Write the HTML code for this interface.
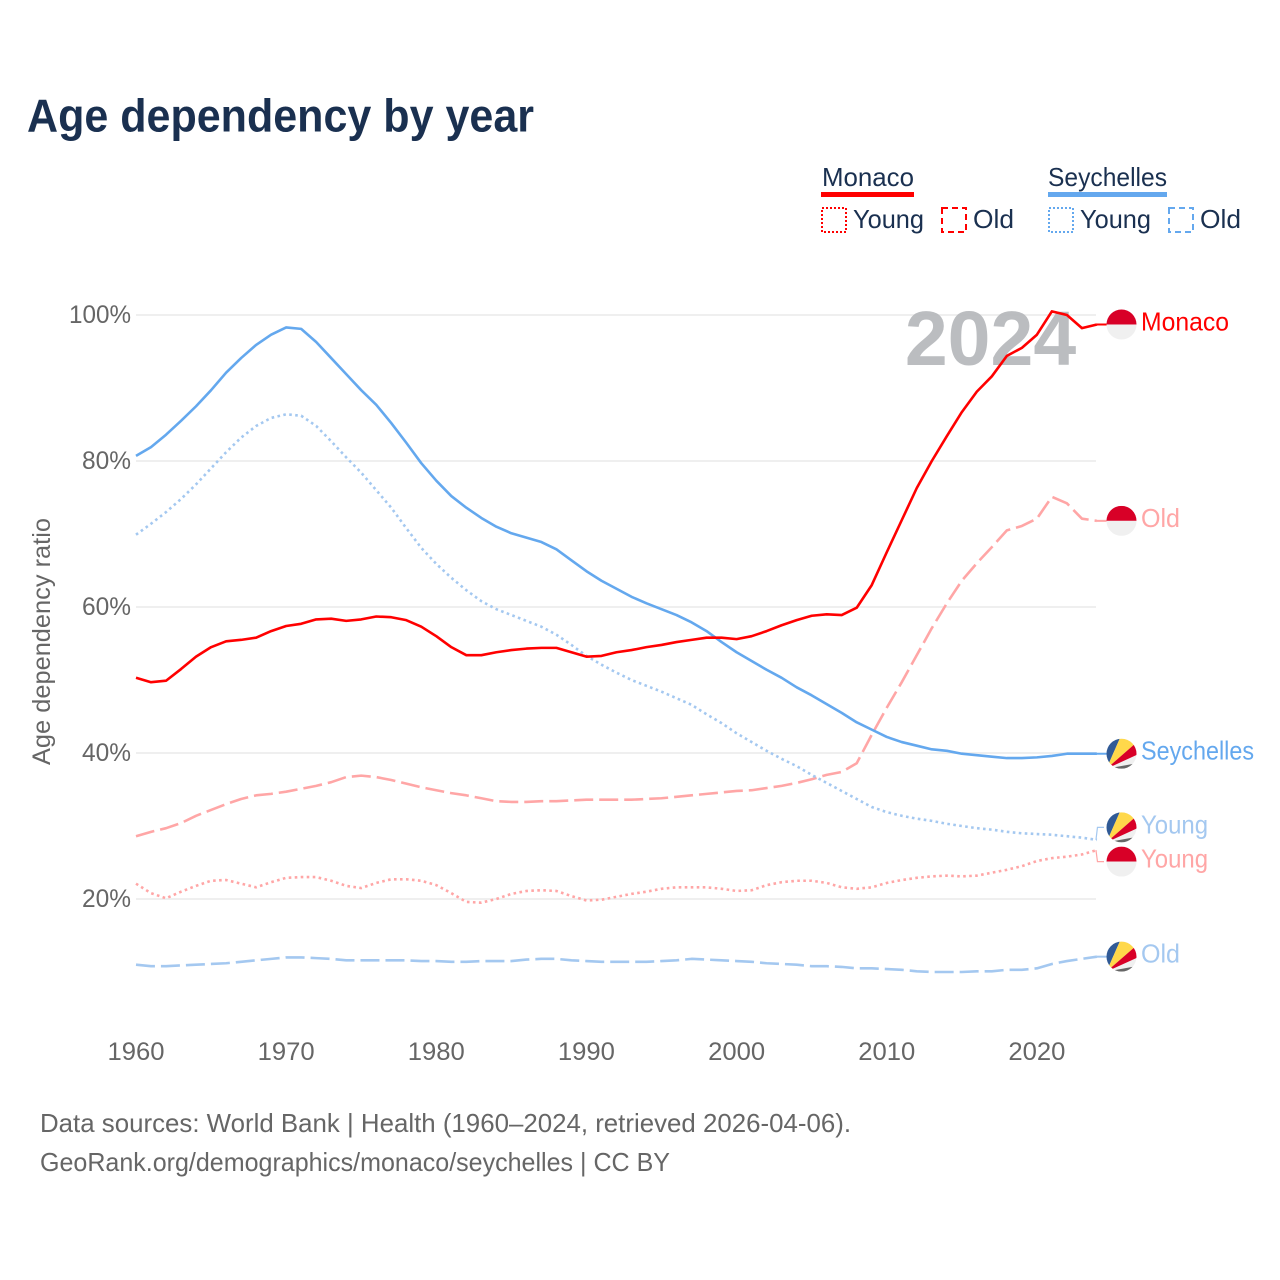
<!DOCTYPE html>
<html lang="en">
<head>
<meta charset="utf-8">
<title>Age dependency by year</title>
<style>
html,body{margin:0;padding:0;background:#fff;width:1280px;height:1280px;overflow:hidden}
svg{display:block}
text{font-family:"Liberation Sans",sans-serif}
</style>
</head>
<body>
<svg id="chart" xmlns="http://www.w3.org/2000/svg" width="1280" height="1280" viewBox="0 0 1280 1280">
  <defs>
    <clipPath id="flag-clip"><circle cx="0" cy="0" r="15"/></clipPath>
  </defs>
  <rect width="1280" height="1280" fill="#fff"/>
  <text x="27" y="131.5" font-size="46" font-weight="700" fill="#1a3050" textLength="507" lengthAdjust="spacingAndGlyphs">Age dependency by year</text>

  <g font-size="26" fill="#1a3050">
    <text x="822" y="186" textLength="92" lengthAdjust="spacingAndGlyphs">Monaco</text>
    <rect x="821" y="192" width="93" height="5" fill="#ff0000"/>
    <rect x="822" y="208" width="24" height="24" fill="none" stroke="#ff0000" stroke-width="2" stroke-dasharray="2 2"/>
    <text x="853" y="228" textLength="71" lengthAdjust="spacingAndGlyphs">Young</text>
    <rect x="942" y="208" width="24" height="24" fill="none" stroke="#ff0000" stroke-width="2" stroke-dasharray="6 4"/>
    <text x="973" y="228" textLength="41" lengthAdjust="spacingAndGlyphs">Old</text>
    <text x="1048" y="186" textLength="119" lengthAdjust="spacingAndGlyphs">Seychelles</text>
    <rect x="1048" y="192" width="119" height="5" fill="#64a8ee"/>
    <rect x="1049" y="208" width="24" height="24" fill="none" stroke="#64a8ee" stroke-width="2" stroke-dasharray="2 2"/>
    <text x="1080" y="228" textLength="71" lengthAdjust="spacingAndGlyphs">Young</text>
    <rect x="1169" y="208" width="24" height="24" fill="none" stroke="#64a8ee" stroke-width="2" stroke-dasharray="6 4"/>
    <text x="1200" y="228" textLength="41" lengthAdjust="spacingAndGlyphs">Old</text>
  </g>

  <g id="grid"></g>
  <text x="990.5" y="365" text-anchor="middle" font-size="77" font-weight="700" fill="#b4b6b9" fill-opacity="0.9">2024</text>
  <g id="y-ticks"></g>
  <g id="x-ticks"></g>
  <text transform="translate(50,765) rotate(-90)" font-size="25" fill="#666" textLength="247" lengthAdjust="spacingAndGlyphs">Age dependency ratio</text>
  <g id="series"></g>
  <g id="end-labels"></g>

  <text x="40" y="1132" font-size="26" fill="#666" textLength="811" lengthAdjust="spacingAndGlyphs">Data sources: World Bank | Health (1960–2024, retrieved 2026-04-06).</text>
  <text x="40" y="1171" font-size="26" fill="#666" textLength="630" lengthAdjust="spacingAndGlyphs">GeoRank.org/demographics/monaco/seychelles | CC BY</text>
</svg>

<script>
const startYear = 1960;
const xTickYears = [1960, 1970, 1980, 1990, 2000, 2010, 2020];
const yTickValues = [20, 40, 60, 80, 100];

const seychellesTotal = [
  80.7,81.9,83.6,85.5,87.5,89.7,92.1,94.1,95.9,97.3,
  98.3,98.1,96.3,94.1,91.9,89.7,87.7,85.2,82.5,79.7,
  77.3,75.2,73.6,72.2,71.0,70.1,69.5,68.9,67.9,66.4,
  64.9,63.6,62.5,61.4,60.5,59.7,58.9,57.9,56.7,55.2,
  53.8,52.6,51.4,50.3,49.0,47.9,46.7,45.5,44.2,43.2,
  42.2,41.5,41.0,40.5,40.3,39.9,39.7,39.5,39.3,39.3,
  39.4,39.6,39.9,39.9,39.9
];
const seychellesYoung = [
  69.9,71.4,73.0,74.8,76.8,79.0,81.2,83.2,84.8,85.9,
  86.4,86.2,84.8,82.7,80.5,78.4,76.0,73.6,70.8,68.1,
  65.9,64.0,62.3,60.8,59.7,58.9,58.1,57.3,56.2,54.8,
  53.3,52.1,51.0,50.0,49.2,48.4,47.5,46.6,45.3,44.1,
  42.7,41.5,40.3,39.2,38.2,37.0,35.9,34.8,33.7,32.6,
  31.9,31.4,31.0,30.7,30.3,30.0,29.7,29.5,29.2,29.0,
  28.9,28.8,28.6,28.4,28.1
];
const seychellesOld = [
  11.0,10.8,10.8,10.9,11.0,11.1,11.2,11.4,11.6,11.8,
  12.0,12.0,11.9,11.8,11.6,11.6,11.6,11.6,11.6,11.5,
  11.5,11.4,11.4,11.5,11.5,11.5,11.7,11.8,11.8,11.6,
  11.5,11.4,11.4,11.4,11.4,11.5,11.6,11.8,11.7,11.6,
  11.5,11.4,11.2,11.1,11.0,10.8,10.8,10.7,10.5,10.5,
  10.4,10.3,10.1,10.0,10.0,10.0,10.1,10.1,10.3,10.3,
  10.5,11.1,11.5,11.8,12.1
];
const monacoTotal = [
  50.3,49.7,49.9,51.5,53.2,54.5,55.3,55.5,55.8,56.7,
  57.4,57.7,58.3,58.4,58.1,58.3,58.7,58.6,58.2,57.3,
  56.0,54.5,53.4,53.4,53.8,54.1,54.3,54.4,54.4,53.8,
  53.2,53.3,53.8,54.1,54.5,54.8,55.2,55.5,55.8,55.8,
  55.6,56.0,56.7,57.5,58.2,58.8,59.0,58.9,59.9,63.0,
  67.5,71.9,76.3,80.0,83.4,86.7,89.5,91.6,94.4,95.5,
  97.3,100.5,100.0,98.2,98.7
];
const monacoYoung = [
  22.1,20.8,20.1,21.0,21.8,22.5,22.6,22.1,21.6,22.3,
  22.9,23.0,23.0,22.5,21.8,21.5,22.2,22.7,22.7,22.5,
  21.9,20.8,19.6,19.5,20.0,20.7,21.1,21.2,21.1,20.4,
  19.8,19.9,20.3,20.7,21.0,21.4,21.6,21.6,21.6,21.4,
  21.1,21.2,21.9,22.3,22.5,22.5,22.2,21.6,21.4,21.6,
  22.2,22.6,22.9,23.1,23.2,23.1,23.2,23.6,24.0,24.5,
  25.2,25.6,25.8,26.1,26.7
];
const monacoOld = [
  28.6,29.2,29.7,30.4,31.4,32.2,33.0,33.7,34.2,34.4,
  34.7,35.1,35.5,36.0,36.7,36.9,36.7,36.3,35.8,35.3,
  34.9,34.5,34.2,33.8,33.4,33.3,33.3,33.4,33.4,33.5,
  33.6,33.6,33.6,33.6,33.7,33.8,34.0,34.2,34.4,34.6,
  34.8,34.9,35.2,35.5,35.9,36.4,37.0,37.4,38.6,42.5,
  46.2,49.7,53.4,57.1,60.5,63.6,66.0,68.2,70.5,71.1,
  72.1,75.1,74.2,72.1,71.8
];

const SVG_NS = 'http://www.w3.org/2000/svg';
const RED = '#ff0000', BLUE = '#64a8ee', LIGHT_RED = '#ffa6a6', LIGHT_BLUE = '#a4c8f0';
function xScale(year) { return 136 + (year - 1960) * 15.015; }
function yScale(value) { return 1045 - value * 7.3; }
function make(tag, attrs, parent) {
  const el = document.createElementNS(SVG_NS, tag);
  for (const key in attrs) el.setAttribute(key, attrs[key]);
  parent.appendChild(el);
  return el;
}

const gridGroup = document.getElementById('grid');
const yTickGroup = document.getElementById('y-ticks');
const xTickGroup = document.getElementById('x-ticks');
const seriesGroup = document.getElementById('series');
const labelGroup = document.getElementById('end-labels');

yTickValues.forEach(function (value) {
  const line = make('line', {x1: 136, x2: 1096, y1: yScale(value), y2: yScale(value), stroke: '#efefef', 'stroke-width': 2}, gridGroup);
  
  
  const label = make('text', {x: 131, y: yScale(value) + 8, 'text-anchor': 'end', 'font-size': 25, fill: '#666', textLength: value === 100 ? 62 : 49, lengthAdjust: 'spacingAndGlyphs'}, yTickGroup);
  
  
  label.textContent = value + '%';
});

xTickYears.forEach(function (year) {
  const label = make('text', {x: xScale(year), y: 1060, 'text-anchor': 'middle', 'font-size': 25, fill: '#666', textLength: 57, lengthAdjust: 'spacingAndGlyphs'}, xTickGroup);
  
  
  label.textContent = String(year);
});

function drawSeries(name, values, color, dash) {
  const points = values.map(function (value, i) {
    return xScale(startYear + i).toFixed(2) + ',' + yScale(value).toFixed(2);
  }).join(' ');
  const attrs = {points: points, fill: 'none', stroke: color, 'stroke-width': 2.6, 'stroke-linejoin': 'round'};
  if (dash) attrs['stroke-dasharray'] = dash;
  const line = make('polyline', attrs, seriesGroup);
  
  
}

drawSeries('monaco-old', monacoOld, LIGHT_RED, '19 6');
drawSeries('monaco-young', monacoYoung, LIGHT_RED, '2.6 3.4');
drawSeries('seychelles-old', seychellesOld, LIGHT_BLUE, '19 6');
drawSeries('seychelles-young', seychellesYoung, LIGHT_BLUE, '2.6 3.4');
drawSeries('seychelles-total', seychellesTotal, BLUE, null);
drawSeries('monaco-total', monacoTotal, RED, null);

function drawFlag(parent, country) {
  const clip = make('g', {'clip-path': 'url(#flag-clip)'}, parent);
  if (country === 'monaco') {
    make('rect', {x: -15, y: -15, width: 30, height: 15, fill: '#d80027'}, clip);
    make('rect', {x: -15, y: 0, width: 30, height: 15, fill: '#f0f0f0'}, clip);
  } else {
    make('rect', {x: -15, y: -15, width: 30, height: 30, fill: '#f0f0f0'}, clip);
    make('polygon', {points: '-15,15 -15,-15 -1.7,-15.2', fill: '#305a96'}, clip);
    make('polygon', {points: '-15,15 -1.7,-15.2 15,-15 15,-11.2', fill: '#ffd84a'}, clip);
    make('polygon', {points: '-15,15 15,-11.2 15,1.3', fill: '#d80027'}, clip);
    make('polygon', {points: '-15,15 15,9.5 15,15', fill: '#666666'}, clip);
  }
}

function drawEndLabel(name, text, country, values, color, lineColor, nudge, textWidth) {
  const lastValue = values[values.length - 1];
  const endX = xScale(startYear + values.length - 1);
  const endY = yScale(lastValue);
  const flagY = endY + nudge;
  const d = nudge === 0
    ? 'M' + endX + ' ' + endY + 'H1107'
    : 'M' + (endX - 1) + ' ' + endY + 'L' + (endX + 0.5) + ' ' + flagY + 'H1104';
  const leader = make('path', {d: d, fill: 'none', stroke: lineColor, 'stroke-width': nudge === 0 ? 2 : 1.2}, labelGroup);
  
  
  const flag = make('g', {transform: 'translate(1121.5,' + flagY + ')'}, labelGroup);
  
  
  drawFlag(flag, country);
  const label = make('text', {x: 1141, y: flagY + 6, 'font-size': 26, fill: color, textLength: textWidth, lengthAdjust: 'spacingAndGlyphs'}, labelGroup);
  
  
  label.textContent = text;
}

drawEndLabel('monaco-total', 'Monaco', 'monaco', monacoTotal, RED, RED, 0, 88);
drawEndLabel('monaco-old', 'Old', 'monaco', monacoOld, LIGHT_RED, LIGHT_RED, 0, 39);
drawEndLabel('seychelles-total', 'Seychelles', 'seychelles', seychellesTotal, BLUE, BLUE, 0, 113);
drawEndLabel('seychelles-young', 'Young', 'seychelles', seychellesYoung, LIGHT_BLUE, LIGHT_BLUE, -12.5, 67);
drawEndLabel('monaco-young', 'Young', 'monaco', monacoYoung, LIGHT_RED, LIGHT_RED, 11.5, 67);
drawEndLabel('seychelles-old', 'Old', 'seychelles', seychellesOld, LIGHT_BLUE, LIGHT_BLUE, 0, 39);
</script>
</body>
</html>
